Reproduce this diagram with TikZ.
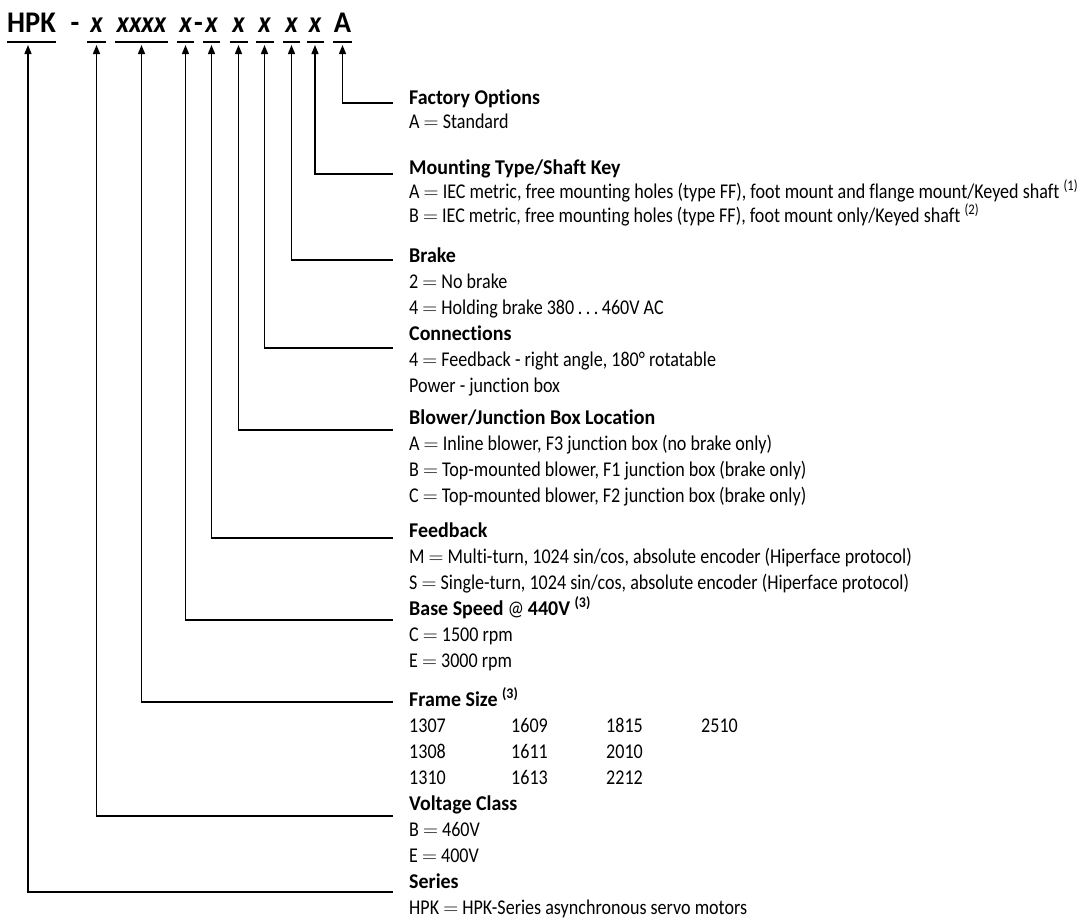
\documentclass[tikz,border=0pt]{standalone}
\usepackage{fontspec}
\setmainfont{Carlito}[FakeStretch=0.86, Ligatures=NoCommon, BoldFeatures={FakeStretch=0.95}, BoldItalicFeatures={FakeStretch=0.9}]
\usetikzlibrary{arrows.meta}
\newcommand{\codechar}[4]{\node[code, minimum width=#3] (#1) at (#2,32) {#4};
    \draw[uline] (#1.south west) -- (#1.south east);}
\newcommand{\codeline}[3]{\node[item] (#1) at (409,#2) {#3};}
\newcommand{\codehead}[3]{\node[head] (#1) at (409,#2) {#3};}
\newcommand{\hookup}[3]{\coordinate (#1) at (393,#2); \draw[conn] (#1) -| (#3.south);}
\newcommand{\eqs}{ $=$ }

\begin{document}
\begin{tikzpicture}[x=1pt, y=-1pt,
    code/.style={font=\fontsize{30}{36}\selectfont\bfseries, anchor=base, inner xsep=0pt, inner ysep=10pt, text depth=0pt, outer sep=0pt},
    item/.style={anchor=base west, inner sep=0pt, font=\fontsize{21}{26}\selectfont},
    head/.style={item, font=\fontsize{21}{26}\selectfont\bfseries},
    uline/.style={line width=1.4pt},
    conn/.style={line width=1.4pt, -{Triangle[length=9pt,width=7pt]}, shorten >=3pt}]
\useasboundingbox (0,0) rectangle (1081,922);
% the catalogue number
\codechar{hpk}{31.5}{43}{HPK}\node[code] (dsh1) at (75,32) {-};
\codechar{cVc}{96.5}{19}{\itshape x}\codechar{cFr}{141.5}{53}{\itshape xxxx}\codechar{cSp}{185.5}{17}{\itshape x}
\node[code] (dsh2) at (198.5,32) {-};
\codechar{cFb}{211.5}{17}{\itshape x}\codechar{cBl}{238.5}{18}{\itshape x}\codechar{cCn}{264.5}{18}{\itshape x}
\codechar{cBr}{291.5}{17}{\itshape x}\codechar{cMt}{315}{17}{\itshape x}\codechar{cFo}{342.5}{19}{A}
% leaders
\hookup{eFo}{103}{cFo}\hookup{eMt}{174}{cMt}\hookup{eBr}{260}{cBr}\hookup{eCn}{348}{cCn}\hookup{eBl}{430}{cBl}
\hookup{eFb}{538}{cFb}\hookup{eSp}{620}{cSp}\hookup{eFr}{702}{cFr}\hookup{eVc}{816}{cVc}
\coordinate (eSe) at (393,892); \draw[conn] (eSe) -| ([xshift=-3.5pt]hpk.south);
% the key
\codehead{hFo}{104}{Factory Options}\codeline{fo1}{128}{A\eqs Standard}
\codehead{hMt}{174}{Mounting Type/Shaft Key}
\codeline{mt1}{198}{A\eqs IEC metric, free mounting holes (type FF), foot mount and flange mount/Keyed shaft \textsuperscript{(1)}}
\codeline{mt2}{222}{B\eqs IEC metric, free mounting holes (type FF), foot mount only/Keyed shaft \textsuperscript{(2)}}
\codehead{hBr}{262}{Brake}\codeline{br1}{288}{2\eqs No brake}\codeline{br2}{314}{4\eqs Holding brake 380\,.\,.\,.\,460V AC}
\codehead{hCn}{340}{Connections}\codeline{cn1}{366}{4\eqs Feedback - right angle, 180° rotatable}\codeline{cn2}{392}{Power - junction box}
\codehead{hBl}{424}{Blower/Junction Box Location}
\codeline{bl1}{450}{A\eqs Inline blower, F3 junction box (no brake only)}
\codeline{bl2}{476}{B\eqs Top-mounted blower, F1 junction box (brake only)}
\codeline{bl3}{502}{C\eqs Top-mounted blower, F2 junction box (brake only)}
\codehead{hFb}{537}{Feedback}
\codeline{fb1}{563}{M\eqs Multi-turn, 1024 sin/cos, absolute encoder (Hiperface protocol)}
\codeline{fb2}{589}{S\eqs Single-turn, 1024 sin/cos, absolute encoder (Hiperface protocol)}
\codeline{hSp}{615}{\textbf{Base Speed} @ \textbf{440V \textsuperscript{(3)}}}\codeline{sp1}{641}{C\eqs 1500 rpm}\codeline{sp2}{667}{E\eqs 3000 rpm}
\codehead{hFr}{706}{Frame Size \textsuperscript{(3)}}
\foreach \row/\y/\a/\b/\c/\d in {1/732/1307/1609/1815/2510, 2/758/1308/1611/2010/, 3/784/1310/1613/2212/}{
    \node[item] (fr\row a) at (409,\y) {\a}; \node[item] (fr\row b) at (511,\y) {\b};
    \node[item] (fr\row c) at (606,\y) {\c}; \node[item] (fr\row d) at (701,\y) {\d};
}
\codehead{hVc}{810}{Voltage Class}\codeline{vc1}{836}{B\eqs 460V}\codeline{vc2}{862}{E\eqs 400V}
\codehead{hSe}{888}{Series}\codeline{se1}{914}{HPK\eqs HPK-Series asynchronous servo motors}
\end{tikzpicture}
\end{document}
